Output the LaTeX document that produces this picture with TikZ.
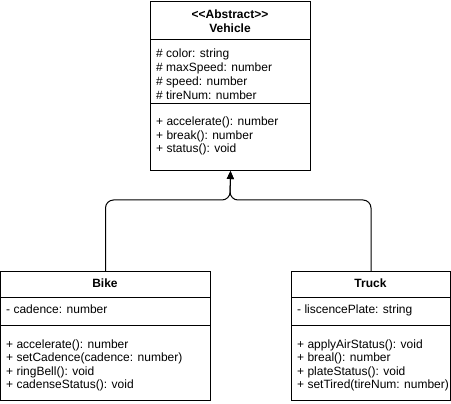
\documentclass[tikz,border=0pt]{standalone}
\usepackage{fontspec}
\setmainfont{Liberation Sans}
\usetikzlibrary{arrows.meta}
\begin{document}
\begin{tikzpicture}[x=1pt,y=-1pt,
  box/.style={draw,line width=1pt,rectangle,anchor=north west,inner sep=0pt},
  txt/.style={anchor=base west,inner sep=0pt,font=\fontsize{12}{14}\selectfont},
  ttl/.style={anchor=base,inner sep=0pt,font=\fontsize{12}{14}\selectfont\bfseries},
  sep/.style={line width=1pt},
  conn/.style={line width=1pt,rounded corners=8pt},
  tip/.style={-{Triangle[width=7pt,length=8pt]}}]
\useasboundingbox (0,0) rectangle (451,404);
% Vehicle
\node[box,minimum width=160pt,minimum height=169pt] (veh) at (150,1) {};
\draw[sep] (150,40) -- (310,40);
\draw[sep] (150,104) -- (310,104);
\node[ttl] (vt1) at (230,19) {<\kern0pt<Abstract>\kern0pt>};
\node[ttl] (vt2) at (230,32.5) {Vehicle};
\node[txt] (va1) at (156,58) {\# color: string};
\node[txt] (va2) at (156,71.7) {\# maxSpeed: number};
\node[txt] (va3) at (156,85.4) {\# speed: number};
\node[txt] (va4) at (156,99.1) {\# tireNum: number};
\node[txt] (vm1) at (156,125.5) {+ accelerate(): number};
\node[txt] (vm2) at (156,139.2) {+ break(): number};
\node[txt] (vm3) at (156,152.9) {+ status(): void};
% Bike
\node[box,minimum width=210pt,minimum height=129pt] (bike) at (0,271) {};
\draw[sep] (0,298) -- (210,298);
\draw[sep] (0,326) -- (210,326);
\node[ttl] (bt) at (105,287.5) {Bike};
\node[txt] (ba1) at (6,313.5) {- cadence: number};
\node[txt] (bm1) at (6,348.3) {+ accelerate(): number};
\node[txt] (bm2) at (6,361.7) {+ setCadence(cadence: number)};
\node[txt] (bm3) at (6,375.1) {+ ringBell(): void};
\node[txt] (bm4) at (6,388.5) {+ cadenseStatus(): void};
% Truck
\node[box,minimum width=159pt,minimum height=129pt] (truck) at (291,271) {};
\draw[sep] (291,298) -- (450,298);
\draw[sep] (291,326) -- (450,326);
\node[ttl] (tt) at (370.5,287.5) {Truck};
\node[txt] (ta1) at (297,313.5) {- liscencePlate: string};
\node[txt] (tm1) at (297,348.3) {+ applyAirStatus(): void};
\node[txt] (tm2) at (297,361.7) {+ breal(): number};
\node[txt] (tm3) at (297,375.1) {+ plateStatus(): void};
\node[txt] (tm4) at (297,388.5) {+ setTired(tireNum: number)};
% connectors
\coordinate (j) at (230,200);
\draw[conn,tip] (bike.north) -- (bike.north |- j) -- (j) -- (veh.south);
\draw[conn,tip] (truck.north) -- (truck.north |- j) -- (j) -- (veh.south);
\end{tikzpicture}
\end{document}
